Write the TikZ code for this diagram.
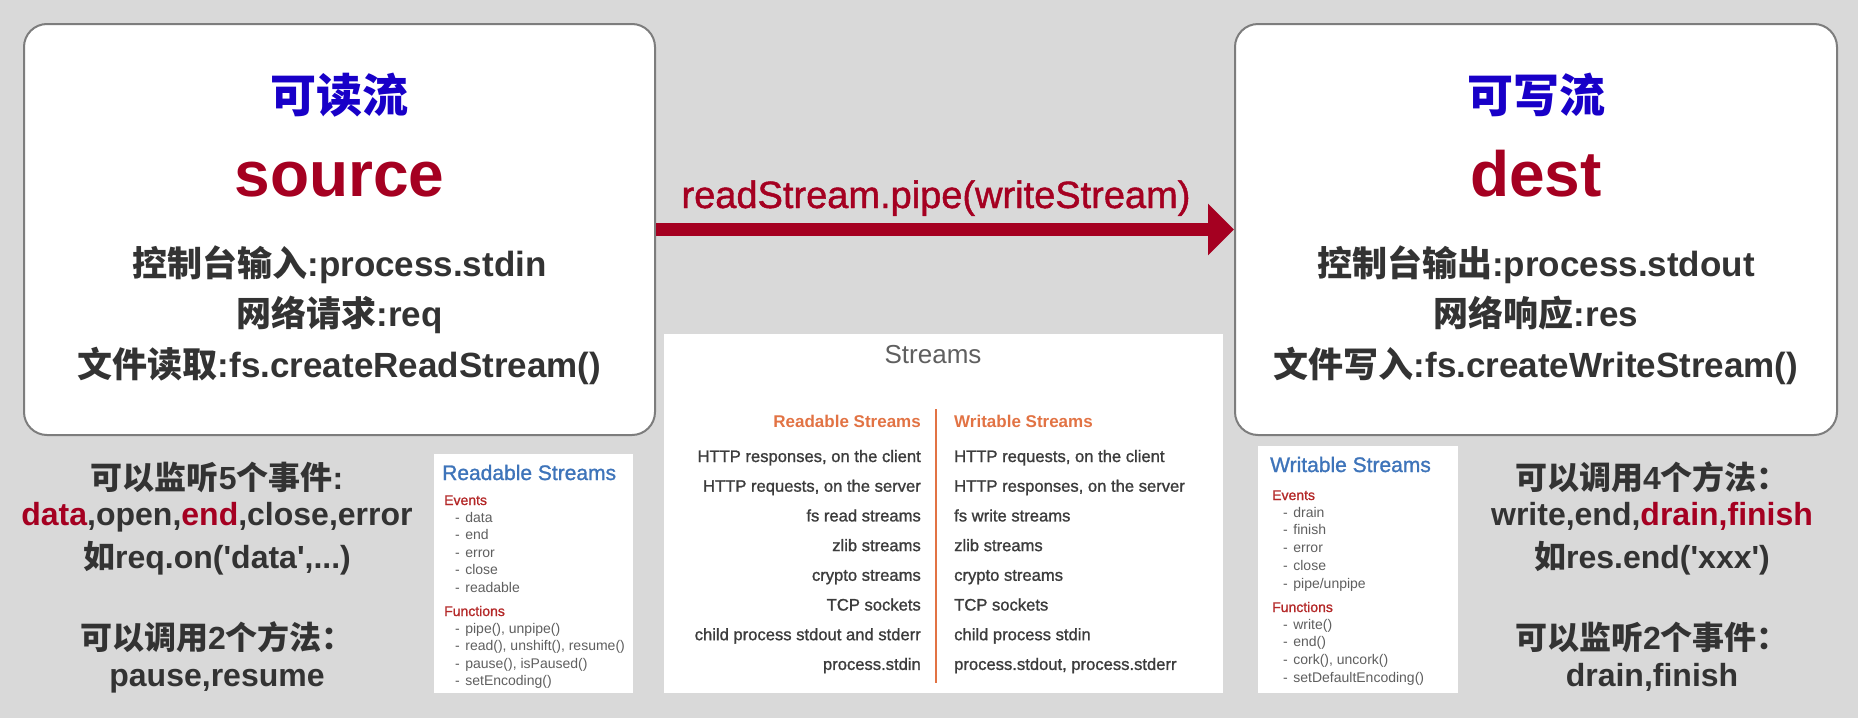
\documentclass[tikz,border=0pt]{standalone}
\usepackage{fontspec}
\setmainfont{Liberation Sans}[Ligatures=TeXOff]
\newfontfamily\medfont{Liberation Sans}[Ligatures=TeXOff, FakeBold=1.2]
\newfontfamily\cjk{Noto Sans CJK SC}
\usetikzlibrary{arrows.meta}
\definecolor{bg}{RGB}{217,217,217}
\definecolor{boxgray}{RGB}{125,125,125}
\definecolor{titleblue}{RGB}{24,0,200}
\definecolor{darkred}{RGB}{165,0,33}
\definecolor{txtgray}{RGB}{51,51,51}
\definecolor{imgblue}{RGB}{62,116,186}
\definecolor{imgred}{RGB}{180,40,40}
\definecolor{imggray}{RGB}{95,95,95}
\definecolor{rowgray}{RGB}{60,60,60}
\definecolor{hdorange}{RGB}{226,115,68}
\newcommand\zh[1]{{\cjk #1}}
\newcommand\fsz[1]{\fontsize{#1}{#1}\selectfont}
\begin{document}
\begin{tikzpicture}[x=1pt,y=-1pt,
  bigbox/.style={draw=boxgray, line width=2pt, fill=white, rounded corners=23pt, inner sep=0pt},
  boxtitle/.style={inner sep=0pt, text=titleblue, font=\cjk\bfseries\fsz{46}},
  boxname/.style={inner sep=0pt, anchor=base, text=darkred, font=\bfseries\fsz{64}},
  boxline/.style={inner sep=0pt, anchor=base, text=txtgray, font=\bfseries\fsz{35}},
  botline/.style={inner sep=0pt, anchor=base, text=txtgray, font=\bfseries\fsz{32}},
  pipearrow/.style={draw=darkred, line width=13pt, -{Triangle[length=26pt,width=50pt]}},
  imgtitle/.style={inner sep=0pt, anchor=base west, text=imgblue, font=\medfont\fsz{21}},
  imghead/.style={inner sep=0pt, anchor=base west, text=imgred, font=\medfont\fsz{14}},
  imgitem/.style={inner sep=0pt, anchor=base west, text=imggray, font=\fsz{14}},
  rowl/.style={inner sep=0pt, anchor=base east, text=rowgray, font=\medfont\fsz{16.6}},
  rowr/.style={inner sep=0pt, anchor=base west, text=rowgray, font=\medfont\fsz{16.6}},
  colhead/.style={inner sep=0pt, text=hdorange, font=\bfseries\fsz{17}}
]
\useasboundingbox (0,0) rectangle (1858,718);
\fill[bg] (0,0) rectangle (1858,718);

% main boxes
\node[bigbox, minimum width=631pt, minimum height=411pt] (src) at (339.5,229.5) {};
\node[bigbox, minimum width=602pt, minimum height=411pt] (dst) at (1536,229.5) {};

\node[boxtitle] (srct) at (339.5,95) {可读流};
\node[boxname] (srcn) at (339.5,196) {source};
\node[boxline] (s1) at (339.5,276) {\zh{控制台输入}:process.stdin};
\node[boxline] (s2) at (339.5,326) {\zh{网络请求}:req};
\node[boxline] (s3) at (339.5,377) {\zh{文件读取}:fs.createReadStream()};

\node[boxtitle] (dstt) at (1536,95) {可写流};
\node[boxname] (dstn) at (1536,196) {dest};
\node[boxline] (d1) at (1536,276) {\zh{控制台输出}:process.stdout};
\node[boxline] (d2) at (1536,326) {\zh{网络响应}:res};
\node[boxline] (d3) at (1536,377) {\zh{文件写入}:fs.createWriteStream()};

% arrow
\draw[pipearrow] (src.east) -- (dst.west);
\node[inner sep=0pt, anchor=base, text=darkred, font=\medfont\fsz{38}] (lbl) at (936,208) {readStream.pipe(writeStream)};

% bottom-left text
\node[botline] (l1) at (217,489) {\zh{可以监听}5\zh{个事件}:};
\node[botline] (l2) at (217,525) {{\color{darkred}data},open,{\color{darkred}end},close,error};
\node[botline] (l3) at (217,568) {\zh{如}req.on('data',...)};
\node[botline] (l4) at (217,649) {\zh{可以调用}2\zh{个方法：}};
\node[botline] (l5) at (217,686) {pause,resume};

% bottom-right text
\node[botline] (r1) at (1652,489) {\zh{可以调用}4\zh{个方法：}};
\node[botline] (r2) at (1652,525) {write,end,{\color{darkred}drain,finish}};
\node[botline] (r3) at (1652,568) {\zh{如}res.end('xxx')};
\node[botline] (r4) at (1652,649) {\zh{可以监听}2\zh{个事件：}};
\node[botline] (r5) at (1652,686) {drain,finish};

% Readable Streams panel
\fill[white] (434,454) rectangle (633,693);
\node[imgtitle] (rt) at (442,480) {Readable Streams};
\node[imghead] (re) at (444,505) {Events};
\foreach \t [count=\i from 0] in {data,end,error,close,readable}
  \node[imgitem] (rei\i) at (455,{522+17.5*\i}) {-\hspace{5.5pt}\t};
\node[imghead] (rf) at (444,616) {Functions};
\foreach \t [count=\i from 0] in {{pipe(), unpipe()},{read(), unshift(), resume()},{pause(), isPaused()},{setEncoding()}}
  \node[imgitem] (rfi\i) at (455,{633+17.5*\i}) {-\hspace{5.5pt}\t};

% Streams panel
\fill[white] (664,334) rectangle (1223,693);
\node[inner sep=0pt, anchor=base, text=imggray, font=\fsz{26}] (st) at (933,363) {Streams};
\draw[hdorange, line width=1.5pt] (936,409) -- (936,683);
\node[colhead, anchor=base east] (hl) at (921,427) {Readable Streams};
\node[colhead, anchor=base west] (hr) at (954,427) {Writable Streams};
\foreach \a/\b [count=\i from 0] in {
  {HTTP responses, on the client}/{HTTP requests, on the client},
  {HTTP requests, on the server}/{HTTP responses, on the server},
  {fs read streams}/{fs write streams},
  {zlib streams}/{zlib streams},
  {crypto streams}/{crypto streams},
  {TCP sockets}/{TCP sockets},
  {child process stdout and stderr}/{child process stdin},
  {process.stdin}/{process.stdout, process.stderr}}{
  \node[rowl] (rl\i) at (921,{462+29.7*\i}) {\a};
  \node[rowr] (rr\i) at (954,{462+29.7*\i}) {\b};
}

% Writable Streams panel
\fill[white] (1258,446) rectangle (1458,693);
\node[imgtitle] (wt) at (1270,472) {Writable Streams};
\node[imghead] (we) at (1272,500) {Events};
\foreach \t [count=\i from 0] in {drain,finish,error,close,pipe/unpipe}
  \node[imgitem] (wei\i) at (1283,{517+17.8*\i}) {-\hspace{5.5pt}\t};
\node[imghead] (wf) at (1272,612) {Functions};
\foreach \t [count=\i from 0] in {{write()},{end()},{cork(), uncork()},{setDefaultEncoding()}}
  \node[imgitem] (wfi\i) at (1283,{629+17.8*\i}) {-\hspace{5.5pt}\t};
\end{tikzpicture}
\end{document}
